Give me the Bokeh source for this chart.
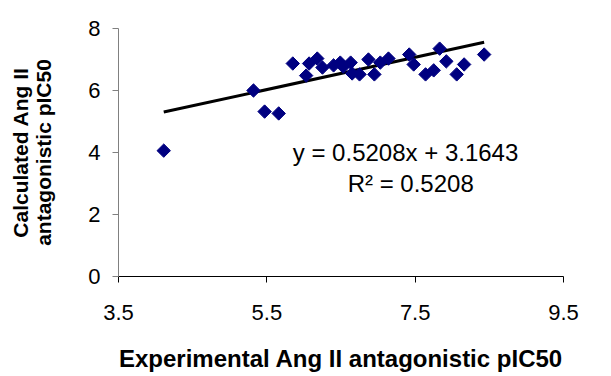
import numpy as np
from bokeh.plotting import figure
from bokeh.models import FixedTicker, Label, Range1d
from bokeh.embed import file_html
from bokeh.resources import INLINE

# Experimental vs calculated pIC50
exp_pic50 = [4.11, 5.32, 5.47, 5.66, 5.85, 6.03, 6.07, 6.18, 6.25, 6.40,
             6.49, 6.53, 6.63, 6.65, 6.75, 6.87, 6.95, 7.03, 7.14, 7.42,
             7.48, 7.64, 7.75, 7.83, 7.92, 8.06, 8.16, 8.43]
calc_pic50 = [4.06, 6.00, 5.32, 5.26, 6.87, 6.48, 6.87, 7.03, 6.74, 6.81,
              6.90, 6.77, 6.90, 6.55, 6.52, 7.00, 6.52, 6.90, 7.03, 7.16,
              6.84, 6.52, 6.65, 7.35, 6.94, 6.52, 6.84, 7.16]
slope = 0.5208
intercept = 3.1643
x_ticks = [3.5, 5.5, 7.5, 9.5]
y_ticks = [0, 2, 4, 6, 8]
eq_text = "y = 0.5208x + 3.1643"
r2_text = "R² = 0.5208"

FONT = "Liberation Sans"

p = figure(width=611, height=376, output_backend="svg", toolbar_location=None,
           x_range=Range1d(3.5, 9.5), y_range=Range1d(0, 8),
           min_border_left=118, min_border_right=48, min_border_top=28,
           min_border_bottom=100)
p.frame_width = 445
p.frame_height = 248
p.outline_line_color = None
p.xgrid.visible = False
p.ygrid.visible = False
p.background_fill_color = "white"
p.border_fill_color = "white"

# trend line
lx = np.array([min(exp_pic50), max(exp_pic50)])
p.line(lx, slope * lx + intercept, line_color="black", line_width=3)

# points (diamonds)
p.scatter(exp_pic50, calc_pic50, marker="square", angle=np.pi / 4, size=9.5,
          fill_color="#000080", line_color="#000080")

# axes
xa = p.xaxis[0]
xa.ticker = FixedTicker(ticks=x_ticks)
xa.axis_label = "Experimental Ang II antagonistic pIC50"
xa.axis_label_text_font = FONT
xa.axis_label_text_font_style = "bold"
xa.axis_label_text_font_size = "24px"
xa.axis_label_text_color = "black"
xa.axis_label_standoff = 22
xa.major_label_text_font = FONT
xa.major_label_text_font_size = "22px"
xa.major_label_text_color = "black"
xa.major_label_standoff = 22
xa.major_tick_out = 6
xa.major_tick_in = 0
xa.minor_tick_out = 0
xa.minor_tick_in = 0
xa.axis_line_color = "black"
xa.major_tick_line_color = "black"

ya = p.yaxis[0]
ya.ticker = FixedTicker(ticks=y_ticks)
ya.axis_label = "Calculated Ang II\nantagonistic pIC50"
ya.axis_label_text_font = FONT
ya.axis_label_text_font_style = "bold"
ya.axis_label_text_font_size = "21px"
ya.axis_label_text_color = "black"
ya.axis_label_text_line_height = 1.0
ya.axis_label_standoff = 30
ya.major_label_text_font = FONT
ya.major_label_text_font_size = "22px"
ya.major_label_text_color = "black"
ya.major_label_standoff = 12
ya.major_tick_out = 6
ya.major_tick_in = 0
ya.minor_tick_out = 0
ya.minor_tick_in = 0
ya.axis_line_color = "#808080"
ya.major_tick_line_color = "#808080"

# equation text
p.add_layout(Label(x=7.37, y=4.0, text=eq_text, text_align="center",
                   text_baseline="alphabetic", text_font=FONT,
                   text_font_size="24px", text_color="black"))
p.add_layout(Label(x=7.44, y=3.0, text=r2_text, text_align="center",
                   text_baseline="alphabetic", text_font=FONT,
                   text_font_size="24px", text_color="black"))

open("out.html", "w").write(file_html(p, INLINE))
